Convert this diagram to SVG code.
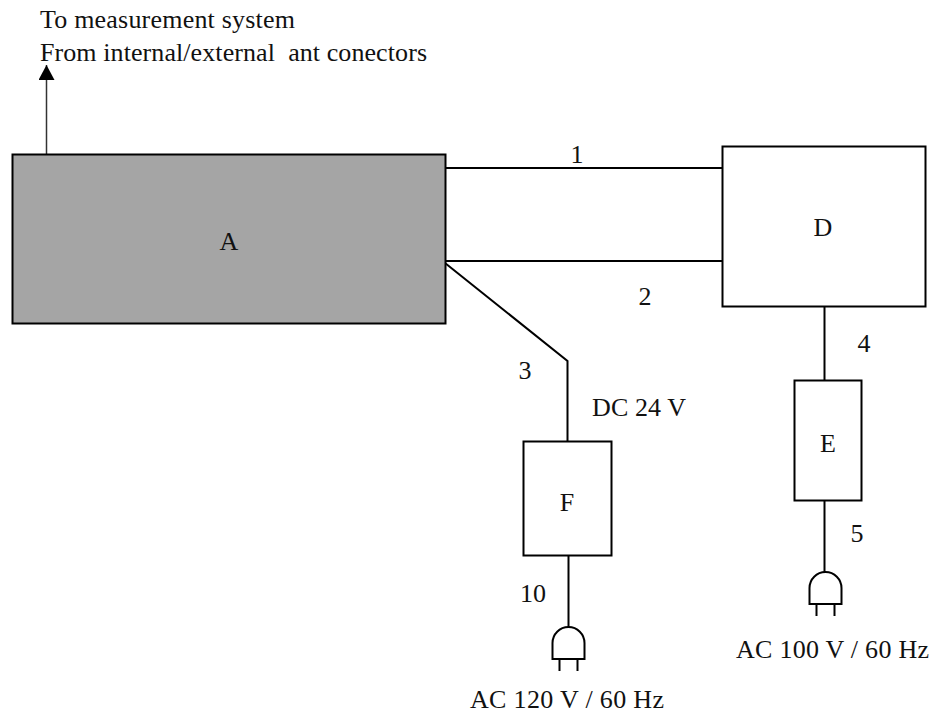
<svg xmlns="http://www.w3.org/2000/svg" width="933" height="716" viewBox="0 0 933 716">
<style>
text{font-family:"Liberation Serif","Times New Roman",serif;font-size:26px;fill:#111}
.b{fill:#fff;stroke:#000;stroke-width:2}
.l{fill:none;stroke:#000;stroke-width:2}
.p{fill:none;stroke:#000;stroke-width:2}
</style>
<defs>
<marker id="arr" markerUnits="userSpaceOnUse" markerWidth="16" markerHeight="16" refX="15" refY="8" orient="auto"><path d="M0,0L15,8L0,16Z" fill="#000"/></marker>
<g id="plug"><path class="p" d="M-16,32V16A16,16 0 0 1 16,16V32Z"/><path class="p" d="M-9,32V44M9,32V44"/></g>
</defs>
<rect width="933" height="716" fill="#fff"/>
<g id="connectors">
<path d="M46.500,154V65" fill="none" stroke="#333" stroke-width="1.500" marker-end="url(#arr)"/>
<path class="l" d="M445,168H722"/>
<path class="l" d="M445,261H722"/>
<path class="l" d="M445,263L567.500,361V441"/>
<path class="l" d="M824.500,307V380"/>
<path class="l" d="M824.500,501V572"/>
<path class="l" d="M568.500,556V627"/>
</g>
<g id="node-A"><rect x="12.500" y="154.500" width="433" height="169" fill="#a5a5a5" stroke="#000" stroke-width="2"/><text x="229" y="250" text-anchor="middle">A</text></g>
<g id="node-D"><rect class="b" x="722.500" y="146.500" width="203" height="160"/><text x="823" y="236" text-anchor="middle">D</text></g>
<g id="node-E"><rect class="b" x="794.500" y="380.500" width="67" height="120"/><text x="828" y="452" text-anchor="middle">E</text></g>
<g id="node-F"><rect class="b" x="523.500" y="441.500" width="88" height="114"/><text x="567" y="511" text-anchor="middle">F</text></g>
<g id="plug-F"><use href="#plug" x="568.500" y="627"/></g>
<g id="plug-E"><use href="#plug" x="825.500" y="572"/></g>
<g id="labels">
<text x="40" y="28" textLength="255">To measurement system</text>
<text x="40" y="61" textLength="387" xml:space="preserve">From internal/external  ant conectors</text>
<text x="577" y="163" text-anchor="middle">1</text>
<text x="645" y="305" text-anchor="middle">2</text>
<text x="525" y="379" text-anchor="middle">3</text>
<text x="864" y="352" text-anchor="middle">4</text>
<text x="857" y="542" text-anchor="middle">5</text>
<text x="533" y="602" text-anchor="middle">10</text>
<text x="592" y="416" textLength="94">DC 24 V</text>
<text x="736" y="658" textLength="193">AC 100 V / 60 Hz</text>
<text x="470" y="708" textLength="194">AC 120 V / 60 Hz</text>
</g>
</svg>
